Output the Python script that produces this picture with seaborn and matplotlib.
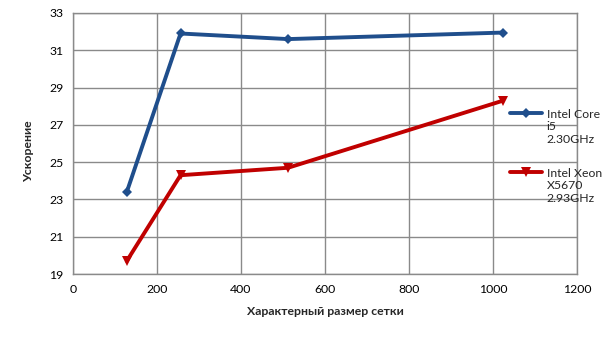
import matplotlib
matplotlib.use("Agg")
import matplotlib.pyplot as plt
from matplotlib.lines import Line2D
from matplotlib.legend_handler import HandlerLine2D
import seaborn as sns
import pandas as pd

grid_sizes = [128, 256, 512, 1024]
core_i5 = [23.4, 31.9, 31.6, 31.95]
xeon = [19.7, 24.3, 24.7, 28.3]
series_names = ["Intel Core\ni5\n2.30GHz", "Intel Xeon\nX5670\n2.93GHz"]
x_ticks = [0, 200, 400, 600, 800, 1000, 1200]
y_ticks = [19, 21, 23, 25, 27, 29, 31, 33]

df = pd.DataFrame({
    "x": grid_sizes * 2,
    "y": core_i5 + xeon,
    "series": [series_names[0]] * 4 + [series_names[1]] * 4,
})

sns.set_style("white")
plt.rcParams["font.family"] = ["Lato", "DejaVu Sans"]

FS = 8.8
LINESP = 1.15

fig = plt.figure(figsize=(6.05, 3.4), dpi=100)
ax = fig.add_axes([0.1207, 0.194, 0.833, 0.7678])

palette = {series_names[0]: "#1F4E8C", series_names[1]: "#C00000"}
markers = {series_names[0]: "D", series_names[1]: "v"}
sns.lineplot(data=df, x="x", y="y", hue="series", style="series",
             palette=palette, markers=markers, dashes=False,
             linewidth=2.8, markersize=5, markeredgewidth=0,
             ax=ax, legend=True)

marker_sizes = {"#1F4E8C": 5.5, "#C00000": 6.5}
for ln in ax.lines:
    c = matplotlib.colors.to_hex(ln.get_color()).upper()
    if c in marker_sizes:
        ln.set_markersize(marker_sizes[c])

ax.set_xlim(0, 1200)
ax.set_ylim(19, 33)
ax.set_xticks(x_ticks)
ax.set_yticks(y_ticks)
ax.grid(True, color="#8a8a8a", linewidth=1.0)
ax.set_axisbelow(True)
for s in ["top", "right", "left", "bottom"]:
    ax.spines[s].set_color("#8a8a8a")
    ax.spines[s].set_linewidth(1.0)
ax.tick_params(axis="both", direction="out", length=4, width=1,
               color="#8a8a8a", labelsize=FS, labelcolor="#000000", pad=3)
ax.tick_params(axis="x", top=False)
ax.tick_params(axis="y", right=False)
ax.set_xlabel("Характерный размер сетки", fontsize=FS, fontweight="bold", labelpad=8)
ax.set_ylabel("Ускорение", fontsize=FS, fontweight="bold")
ax.yaxis.set_label_coords(-0.077, 0.471)


class TopLine(HandlerLine2D):
    def create_artists(self, legend, orig_handle, xdescent, ydescent,
                       width, height, fontsize, trans):
        arts = super().create_artists(legend, orig_handle, xdescent, ydescent,
                                      width, height, fontsize, trans)
        shift = fontsize * LINESP * 1.0
        for a in arts:
            a.set_ydata([v + shift for v in a.get_ydata()])
        return arts


handles, labels = ax.get_legend_handles_labels()
for h in handles:
    c = matplotlib.colors.to_hex(h.get_color()).upper()
    if c in marker_sizes:
        h.set_markersize(marker_sizes[c])
leg = ax.legend(handles, labels, loc="upper left",
                bbox_to_anchor=(510 / 605, 1 - 109 / 340),
                bbox_transform=fig.transFigure, frameon=False, fontsize=FS,
                handlelength=2.6, handletextpad=0.4, labelspacing=1.9,
                borderaxespad=0, borderpad=0,
                handler_map={Line2D: TopLine()})
for t in leg.get_texts():
    t.set_linespacing(LINESP)

fig.savefig("out.png", dpi=100)
